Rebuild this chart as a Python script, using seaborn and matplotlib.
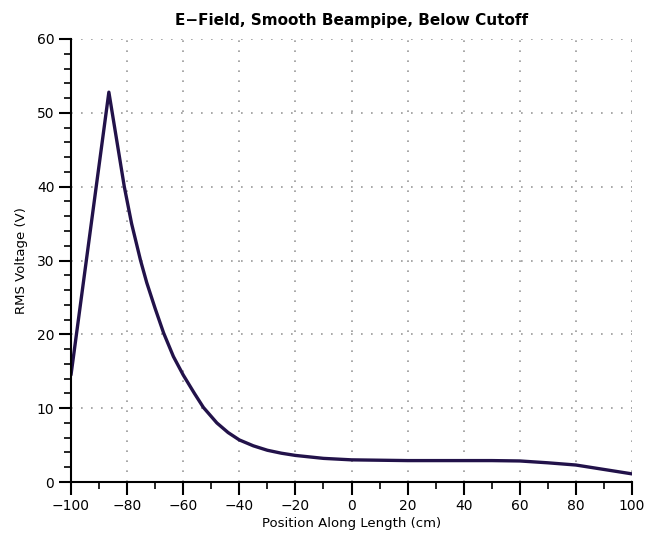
import matplotlib
matplotlib.use("Agg")
import matplotlib.pyplot as plt
import seaborn as sns
import pandas as pd
from matplotlib.ticker import MultipleLocator

position_cm = [-100, -86.5, -81, -78.4, -75.2, -73, -70, -67, -63.5, -60, -56,
               -52.8, -48, -44, -40, -35, -30, -25, -20, -10, 0, 10, 20, 30, 40,
               50, 60, 70, 80, 90, 100]
rms_voltage = [14.5, 52.8, 40.0, 35.0, 30.0, 27.0, 23.5, 20.2, 17.0, 14.5, 12.0,
               10.1, 8.0, 6.7, 5.7, 4.9, 4.3, 3.9, 3.6, 3.2, 3.0, 2.95, 2.9, 2.9, 2.9,
               2.9, 2.85, 2.6, 2.3, 1.7, 1.1]

df = pd.DataFrame({"x": position_cm, "y": rms_voltage})

sns.set_style("white")
plt.rcParams['font.family'] = ['DejaVu Sans']
plt.rcParams['text.color'] = 'black'
plt.rcParams['axes.labelcolor'] = 'black'
plt.rcParams['xtick.color'] = 'black'
plt.rcParams['ytick.color'] = 'black'

fig = plt.figure(figsize=(6.68, 5.36), dpi=100)
ax = fig.add_axes([71/668, 54/536, (632-71)/668, (482-39)/536])

sns.lineplot(data=df, x="x", y="y", ax=ax, color="#22124a", linewidth=2.4, sort=False)
ax.lines[0].set_solid_joinstyle("round")

ax.set_xlim(-100, 100)
ax.set_ylim(0, 60)
ax.xaxis.set_major_locator(MultipleLocator(20))
ax.xaxis.set_minor_locator(MultipleLocator(10))
ax.yaxis.set_major_locator(MultipleLocator(10))
ax.yaxis.set_minor_locator(MultipleLocator(2))

ax.grid(True, which="major", color="#9a9a9a", linestyle=(0, (1, 5)), linewidth=1.2)
ax.set_axisbelow(True)

for s in ["top", "right"]:
    ax.spines[s].set_visible(False)
for s in ["left", "bottom"]:
    ax.spines[s].set_color("black")
    ax.spines[s].set_linewidth(1.5)

ax.tick_params(axis="both", which="both", bottom=True, left=True, top=False, right=False)
ax.tick_params(axis="both", which="major", direction="out", length=9, width=1.5,
               color="black", labelsize=10, pad=3, labelcolor="black")
ax.tick_params(axis="both", which="minor", direction="out", length=5, width=1.2, color="black")

ax.set_xticklabels([f"{int(v)}".replace("-", "\u2212") for v in ax.get_xticks()])
ax.set_xlabel("Position Along Length (cm)", fontsize=9.5, labelpad=3)
ax.set_ylabel("RMS Voltage (V)", fontsize=9.5, labelpad=6)
ax.set_title("E\u2212Field, Smooth Beampipe, Below Cutoff", fontsize=11, fontweight="bold", pad=10)

fig.savefig("out.png", dpi=100)
